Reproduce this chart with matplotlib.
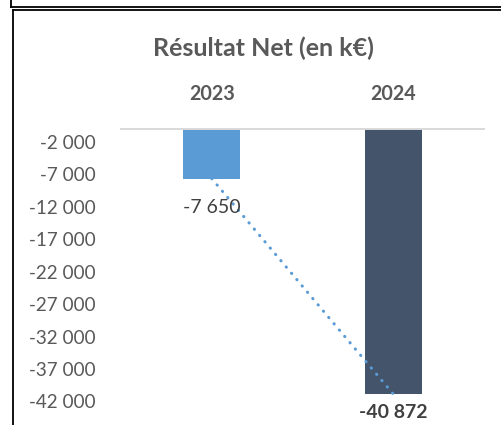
import matplotlib
matplotlib.use('Agg')
import matplotlib.pyplot as plt
from matplotlib.lines import Line2D
from matplotlib.ticker import FixedLocator, FuncFormatter

plt.rcParams['font.family'] = ['Lato', 'DejaVu Sans']

# data
years = ['2023', '2024']
resultat = [-7650, -40872]
bar_colors = ['#5B9BD5', '#44546A']
y_ticks = [-2000, -7000, -12000, -17000, -22000, -27000, -32000, -37000, -42000]
title = 'Résultat Net (en k€)'

W, H = 502, 425
fig = plt.figure(figsize=(W / 100, H / 100), dpi=100)


def px(x0, y0, x1, y1):
    # pixel box (top-left origin) -> figure fraction rect
    return [x0 / W, 1 - y1 / H, (x1 - x0) / W, (y1 - y0) / H]


def fmt(v, pos=None):
    return f'{v:,.0f}'.replace(',', ' ')


ax = fig.add_axes(px(121, 129, 484, 420.8))
xs = list(range(len(years)))
ax.bar(xs, resultat, width=0.313, color=bar_colors, zorder=2)

# dotted linear trend line between the two bars
ax.plot(xs, resultat, color='#5B9BD5', lw=2.2, linestyle=(0, (0.1, 2.6)),
        dash_capstyle='round', zorder=3, clip_on=False)

ax.set_xlim(-0.5, 1.5)
ax.set_ylim(-45000, 0)

ax.yaxis.set_major_locator(FixedLocator(y_ticks))
ax.yaxis.set_major_formatter(FuncFormatter(fmt))
ax.tick_params(axis='y', length=0, pad=18, labelsize=13.6, labelcolor='#595959')

ax.xaxis.tick_top()
ax.set_xticks(xs)
ax.set_xticklabels(years, fontweight='bold')
ax.tick_params(axis='x', length=0, pad=18, labelsize=14.2, labelcolor='#595959')

for s in ['left', 'right', 'bottom']:
    ax.spines[s].set_visible(False)
ax.spines['top'].set_color('#D9D9D9')
ax.spines['top'].set_linewidth(1.4)

# data labels
ax.text(xs[0], resultat[0] - 4400, fmt(resultat[0]), ha='center', va='center',
        fontsize=14, color='#404040')
ax.text(xs[1], resultat[1] - 2900, fmt(resultat[1]), ha='center', va='center',
        fontsize=14, fontweight='bold', color='#404040', clip_on=False)

fig.text(263 / W, 1 - 48 / H, title, ha='center', va='center',
         fontsize=18, fontweight='bold', color='#595959')

# frames around the chart
def fline(x0, y0, x1, y1, lw=1.3):
    fig.add_artist(Line2D([x0 / W, x1 / W], [1 - y0 / H, 1 - y1 / H],
                          transform=fig.transFigure, color='black', lw=lw))

fline(11, 0, 11, 6.5)
fline(11, 6.5, W, 6.5)
fline(13, 9.8, 13, H)
fline(13, 9.8, W, 9.8)

fig.savefig('out.png', dpi=100)
